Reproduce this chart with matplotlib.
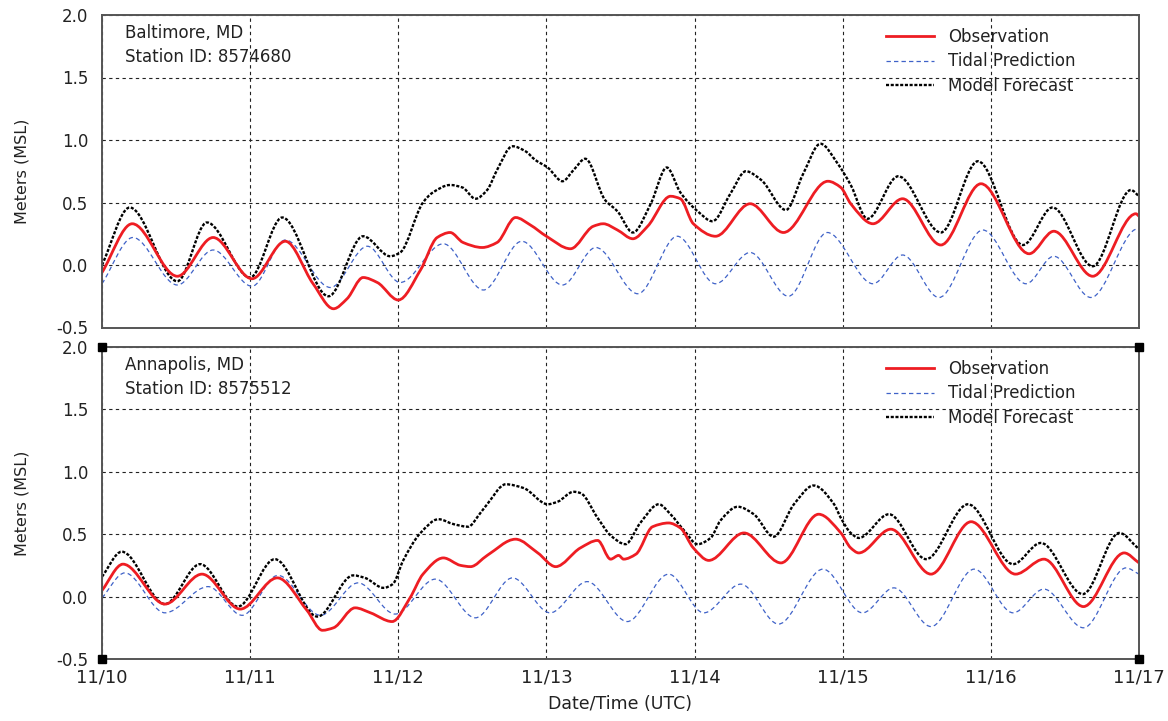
import numpy as np
import matplotlib
matplotlib.use("Agg")
import matplotlib.pyplot as plt
from matplotlib.path import Path
from matplotlib.patches import PathPatch
from matplotlib.lines import Line2D

# ---------------- data (hours since 11/10 00 UTC, meters MSL) ----------------
day_hours = [0, 24, 48, 72, 96, 120, 144, 168]
day_labels = ["11/10", "11/11", "11/12", "11/13", "11/14", "11/15", "11/16", "11/17"]
y_ticks = [-0.5, 0.0, 0.5, 1.0, 1.5, 2.0]
series_labels = ["Observation", "Tidal Prediction", "Model Forecast"]

# Baltimore, MD
balt_obs_t = [0, 4.9, 12.2, 18, 24.3, 29.7, 34.2, 37.5, 39.7, 42.3, 44.6, 48, 51.6, 54.3,
              56.4, 58.5, 61.6, 64.0, 67, 69.4, 72, 75.9, 79.6, 81.2, 83.5, 86, 88.4, 92.1,
              93.7, 95.8, 99.4, 105, 110.4, 117.6, 119.7, 121.3, 124.9, 129.7, 135.9, 142.4,
              150.2, 154.2, 160.5, 167.5, 168]
balt_obs_v = [-0.06, 0.33, -0.09, 0.22, -0.11, 0.19, -0.15, -0.35, -0.27, -0.10, -0.14, -0.28,
              -0.04, 0.22, 0.26, 0.18, 0.14, 0.18, 0.38, 0.32, 0.23, 0.13, 0.31, 0.33, 0.28,
              0.21, 0.31, 0.55, 0.53, 0.33, 0.23, 0.49, 0.26, 0.67, 0.62, 0.49, 0.33, 0.53,
              0.16, 0.65, 0.09, 0.27, -0.09, 0.41, 0.39]

balt_tide_t = [0, 5.0, 12.2, 18, 24.3, 29.7, 37, 43, 48.3, 55.3, 61.8, 68, 74.6, 80, 86.8,
               93.2, 99.4, 105, 111.2, 117.5, 124.9, 129.7, 135.6, 142.7, 149.7, 154.2, 160.2,
               167.8, 168]
balt_tide_v = [-0.15, 0.22, -0.16, 0.12, -0.17, 0.20, -0.18, 0.15, -0.14, 0.17, -0.20, 0.19,
               -0.16, 0.14, -0.23, 0.23, -0.15, 0.10, -0.25, 0.26, -0.15, 0.08, -0.26, 0.28,
               -0.15, 0.07, -0.26, 0.29, 0.29]

balt_model_t = [0, 4.5, 12.2, 17, 24, 29.2, 36.7, 42.3, 46.7, 48.3, 52.0, 53.6, 56.4, 58.4,
                60.5, 62.4, 64.0, 66.5, 68.6, 70.2, 72.2, 74.6, 76.4, 78.3, 81.5, 83.5, 86,
                88.9, 91.5, 93.7, 96.5, 98.9, 101.8, 104.3, 106.8, 110.8, 113.6, 116.4, 119.2,
                121.3, 124.0, 129, 135.9, 141.9, 149.2, 154, 160.5, 166.7, 168]
balt_model_v = [0.0, 0.46, -0.13, 0.34, -0.10, 0.38, -0.25, 0.23, 0.07, 0.10, 0.50, 0.58, 0.64,
                0.62, 0.53, 0.60, 0.76, 0.95, 0.91, 0.84, 0.78, 0.67, 0.76, 0.85, 0.52, 0.43,
                0.26, 0.49, 0.78, 0.58, 0.43, 0.35, 0.57, 0.75, 0.68, 0.44, 0.73, 0.97, 0.81,
                0.64, 0.37, 0.71, 0.26, 0.83, 0.16, 0.46, -0.01, 0.60, 0.55]

# Annapolis, MD
anna_obs_t = [0, 3.4, 10.2, 16.2, 22.4, 28.4, 33.2, 35.7, 37.5, 41, 43.5, 47, 49.9, 52.0, 55.3,
              58.1, 59.7, 62.4, 67, 70.6, 73.5, 77.5, 80.3, 82.4, 83.7, 84.5, 86.5, 89.2, 91.8,
              93.7, 95.8, 98.3, 104, 110, 116.1, 119.7, 121.3, 122.6, 127.8, 134.3, 140.8,
              148, 152.6, 159, 165.6, 168]
anna_obs_v = [0.05, 0.26, -0.06, 0.18, -0.10, 0.15, -0.11, -0.27, -0.25, -0.09, -0.13, -0.20,
              -0.01, 0.18, 0.31, 0.25, 0.24, 0.33, 0.46, 0.35, 0.24, 0.39, 0.45, 0.30, 0.33,
              0.30, 0.34, 0.56, 0.59, 0.55, 0.39, 0.29, 0.51, 0.27, 0.66, 0.51, 0.39, 0.35,
              0.54, 0.18, 0.60, 0.18, 0.30, -0.08, 0.35, 0.27]

anna_tide_t = [0, 3.7, 10.2, 17.2, 22.7, 28.5, 35.4, 41.5, 47.5, 54, 60.5, 66.5, 72.6, 78.6,
               85.1, 91.8, 97.5, 103.5, 109.6, 116.8, 123.2, 128.3, 134.3, 141.3, 147.6, 152.6,
               159, 165.9, 168]
anna_tide_v = [-0.01, 0.19, -0.13, 0.08, -0.15, 0.17, -0.15, 0.11, -0.14, 0.14, -0.17, 0.15,
               -0.13, 0.12, -0.20, 0.18, -0.13, 0.10, -0.22, 0.22, -0.13, 0.07, -0.24, 0.22,
               -0.13, 0.06, -0.25, 0.23, 0.18]

anna_model_t = [0, 3.2, 10.2, 15.9, 22, 28, 34.9, 40.7, 42.6, 45.6, 47.1, 48.8, 51.6, 54.5, 57.0,
                59.3, 61.3, 62.4, 65.4, 68.3, 72.2, 73.8, 76.4, 77.5, 80.3, 82.4, 84.8, 87.2,
                90.2, 92.1, 94.3, 96.5, 98.6, 100.2, 103, 105.6, 108.8, 112.1, 115.3, 118.6,
                119.7, 121.3, 122.6, 127.5, 133.5, 140.3, 147.6, 152.1, 158.9, 164.8, 168]
anna_model_v = [0.16, 0.36, -0.06, 0.26, -0.08, 0.30, -0.16, 0.17, 0.15, 0.07, 0.10, 0.29, 0.51,
                0.62, 0.58, 0.56, 0.67, 0.74, 0.90, 0.87, 0.74, 0.76, 0.84, 0.83, 0.63, 0.49,
                0.42, 0.59, 0.74, 0.66, 0.53, 0.42, 0.47, 0.61, 0.72, 0.66, 0.48, 0.74, 0.89,
                0.74, 0.63, 0.51, 0.47, 0.66, 0.30, 0.74, 0.26, 0.43, 0.02, 0.51, 0.38]

stations = [
    ("Baltimore, MD", "Station ID: 8574680",
     (balt_obs_t, balt_obs_v), (balt_tide_t, balt_tide_v), (balt_model_t, balt_model_v)),
    ("Annapolis, MD", "Station ID: 8575512",
     (anna_obs_t, anna_obs_v), (anna_tide_t, anna_tide_v), (anna_model_t, anna_model_v)),
]

# ---------------- helpers ----------------
def smooth_path(t, v):
    """Monotone cubic (PCHIP) curve through the read points, as Bezier segments."""
    x = np.asarray(t, float)
    y = np.asarray(v, float)
    h = np.diff(x)
    delta = np.diff(y) / h
    d = np.zeros_like(y)
    for k in range(1, len(x) - 1):
        if delta[k - 1] * delta[k] > 0:
            w1 = 2 * h[k] + h[k - 1]
            w2 = h[k] + 2 * h[k - 1]
            d[k] = (w1 + w2) / (w1 / delta[k - 1] + w2 / delta[k])
    d[0] = delta[0]
    d[-1] = delta[-1]
    verts = [(x[0], y[0])]
    codes = [Path.MOVETO]
    for i in range(len(h)):
        verts += [(x[i] + h[i] / 3, y[i] + d[i] * h[i] / 3),
                  (x[i + 1] - h[i] / 3, y[i + 1] - d[i + 1] * h[i] / 3),
                  (x[i + 1], y[i + 1])]
        codes += [Path.CURVE4] * 3
    return Path(verts, codes)

OBS = dict(color="#ee1d23", lw=2.0, linestyle="-")
TIDE = dict(color="#3f62c8", lw=0.9, linestyle=(0, (3.5, 2.5)))
MODEL = dict(color="black", lw=1.7, linestyle=(0, (1.3, 0.7)))

plt.rcParams["font.family"] = ["DejaVu Sans"]

fig = plt.figure(figsize=(11.68, 7.21), dpi=100)
W, H = 1168.0, 721.0
left, right = 102, 1139
panels_px = [(15, 327.5), (347, 659)]
axes = []
for top, bot in panels_px:
    ax = fig.add_axes([left / W, 1 - bot / H, (right - left) / W, (bot - top) / H])
    axes.append(ax)

for idx, (ax, st) in enumerate(zip(axes, stations)):
    name, sid, obs, tide, model = st
    ax.set_xlim(day_hours[0], day_hours[-1])
    ax.set_ylim(y_ticks[0], y_ticks[-1])
    ax.set_xticks(day_hours)
    ax.set_yticks(y_ticks)
    ax.set_yticklabels([f"{v:.1f}" for v in y_ticks])
    if idx == 1:
        ax.set_xticklabels(day_labels)
    else:
        ax.set_xticklabels([])
    ax.tick_params(length=0, labelsize=12, colors="#222222", pad=10)
    ax.tick_params(axis="x", labelsize=13, pad=7)
    ax.grid(True, color="#222222", lw=0.8, linestyle=(0, (3, 3)))
    ax.set_axisbelow(True)
    for sp in ax.spines.values():
        sp.set_color("#555555")
        sp.set_linewidth(1.4)

    for (tt, vv), sty in ((tide, TIDE), (model, MODEL), (obs, OBS)):
        patch = PathPatch(smooth_path(tt, vv), fill=False, edgecolor=sty["color"],
                          lw=sty["lw"], linestyle=sty["linestyle"], capstyle="butt",
                          joinstyle="round")
        ax.add_patch(patch)

    ax.set_ylabel("Meters (MSL)", fontsize=11.5, color="#222222")
    ax.yaxis.set_label_coords(-(left - 30) / (right - left), 0.5)

    ph = panels_px[idx][1] - panels_px[idx][0]
    ax.text(23 / (right - left), 1 - 9 / ph, name, transform=ax.transAxes,
            ha="left", va="top", fontsize=12, color="#222222")
    ax.text(23 / (right - left), 1 - 33 / ph, sid, transform=ax.transAxes,
            ha="left", va="top", fontsize=12, color="#222222")

    handles = [Line2D([], [], **OBS), Line2D([], [], **TIDE), Line2D([], [], **MODEL)]
    ax.legend(handles, series_labels, loc="upper left",
              bbox_to_anchor=((886 - left) / (right - left), 1 - 13 / ph),
              frameon=False, fontsize=12, handlelength=2.9, handletextpad=0.8,
              labelspacing=0.38, borderaxespad=0, borderpad=0, labelcolor="#222222")

# corner markers on the lower panel
ax2 = axes[1]
for cx in (0, 1):
    for cy in (0, 1):
        ax2.plot([cx], [cy], marker="s", ms=6, color="black", transform=ax2.transAxes,
                 clip_on=False, zorder=10)

ax2.set_xlabel("Date/Time (UTC)", fontsize=12.5, color="#222222", labelpad=6)

fig.savefig("out.png", dpi=100)
